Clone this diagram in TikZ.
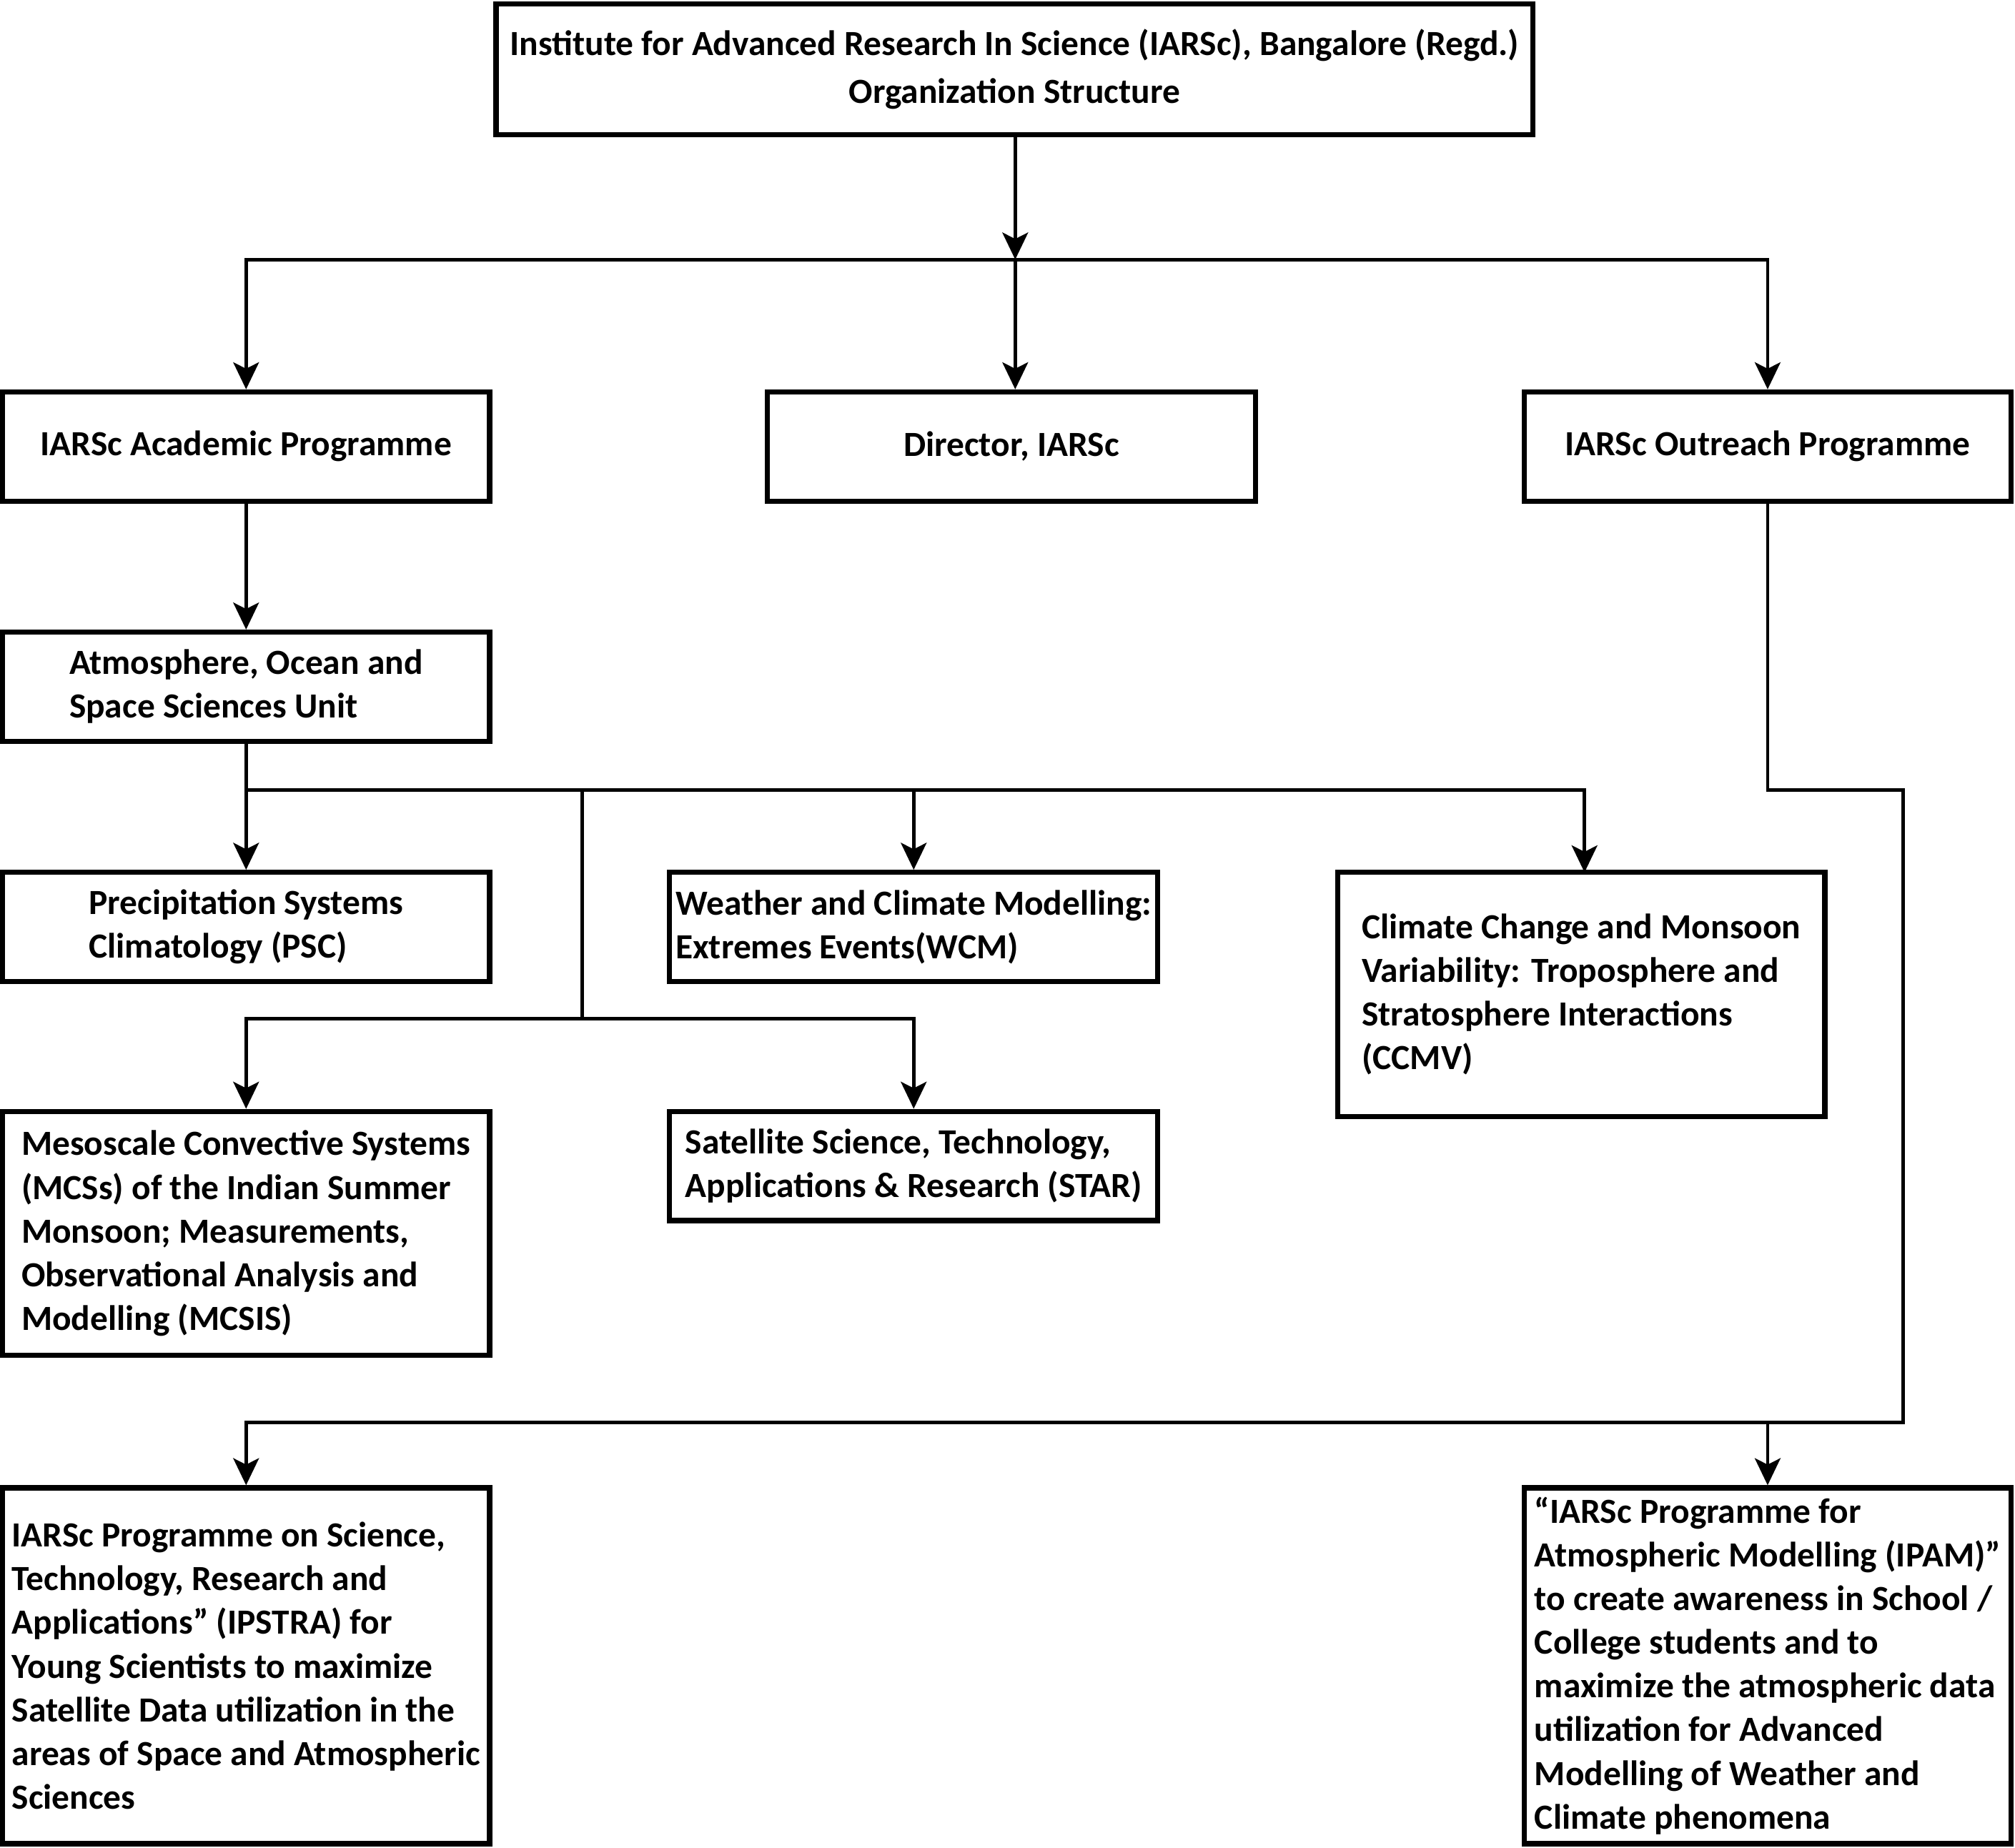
\documentclass[tikz,border=0pt]{standalone}
\usepackage{fontspec}
\setmainfont{Carlito}
\usetikzlibrary{arrows.meta}
\begin{document}
\begin{tikzpicture}[x=1pt,y=-1pt,
  box/.style={draw, line width=4pt, inner sep=0pt, align=left,
    font=\bfseries\fontsize{27.5}{34}\selectfont},
  conn/.style={line width=2.6pt},
  arr/.style={conn, -{Stealth[length=21pt,width=20pt,inset=5pt]}}]
\useasboundingbox (0,0) rectangle (1568,1438);
\node[box, align=center, minimum width=807pt, minimum height=102pt,
  font=\bfseries\fontsize{27.5}{37}\selectfont] (top) at (789.5,54)
  {Institute for Advanced Research In Science (IARSc), Bangalore (Regd.)\\Organization Structure};
\node[box, minimum width=379pt, minimum height=85pt] (acad) at (191.5,347.5) {IARSc Academic Programme};
\node[box, minimum width=380pt, minimum height=85pt] (dir) at (787,347.5) {Director, IARSc};
\node[box, minimum width=379pt, minimum height=85pt] (out) at (1375.5,347.5) {IARSc Outreach Programme};
\node[box, minimum width=379pt, minimum height=85pt] (atm) at (191.5,534.5) {Atmosphere, Ocean and\\Space Sciences Unit};
\node[box, minimum width=379pt, minimum height=85pt] (psc) at (191.5,721.5) {Precipitation Systems\\Climatology (PSC)};
\node[box, minimum width=380pt, minimum height=85pt] (wcm) at (711,721.5) {Weather and Climate Modelling:\\Extremes Events(WCM)};
\node[box, minimum width=379pt, minimum height=190pt] (ccmv) at (1230.5,774) {Climate Change and Monsoon\\Variability: Troposphere and\\Stratosphere Interactions\\(CCMV)};
\node[box, minimum width=379pt, minimum height=190pt] (mcs) at (191.5,960) {Mesoscale Convective Systems\\(MCSs) of the Indian Summer\\Monsoon; Measurements,\\Observational Analysis and\\Modelling (MCSIS)};
\node[box, minimum width=380pt, minimum height=85pt] (star) at (711,907.5) {Satellite Science, Technology,\\Applications \& Research (STAR)};
\node[box, minimum width=379pt, minimum height=277pt] (ipstra) at (191.5,1296.5) {IARSc Programme on Science,\\Technology, Research and\\Applications” (IPSTRA) for\\Young Scientists to maximize\\Satellite Data utilization in the\\areas of Space and Atmospheric\\Sciences};
\node[box, minimum width=379pt, minimum height=277pt] (ipam) at (1375.5,1296.5) {“IARSc Programme for\\Atmospheric Modelling (IPAM)”\\to create awareness in School /\\College students and to\\maximize the atmospheric data\\utilization for Advanced\\Modelling of Weather and\\Climate phenomena};
% coordinates
\coordinate (b1) at (790,202);
\coordinate (b2) at (191.5,615);
\coordinate (j1) at (453,615);
\coordinate (j2) at (453,793);
\coordinate (ob1) at (1481,615);
\coordinate (ob2) at (1481,1107);
% connectors
\draw[arr] (top.south -| b1) -- (b1);
\draw[arr] (b1) -| (acad.north);
\draw[arr] (b1) -| (out.north);
\draw[arr] (b1) -- (b1 |- dir.north);
\draw[arr] (acad.south) -- (atm.north);
\draw[arr] (atm.south) -- (psc.north);
\draw[arr] (b2) -| (1233,679);
\draw[arr] (wcm.north |- b2) -- (wcm.north);
\draw[conn] (j1) -- (j2);
\draw[arr] (j2) -| (mcs.north);
\draw[arr] (j2) -| (star.north);
\draw[arr] (out.south) |- (ob1) -- (ob2) -| (ipstra.north);
\draw[arr] (ipam.north |- ob2) -- (ipam.north);
\end{tikzpicture}
\end{document}
